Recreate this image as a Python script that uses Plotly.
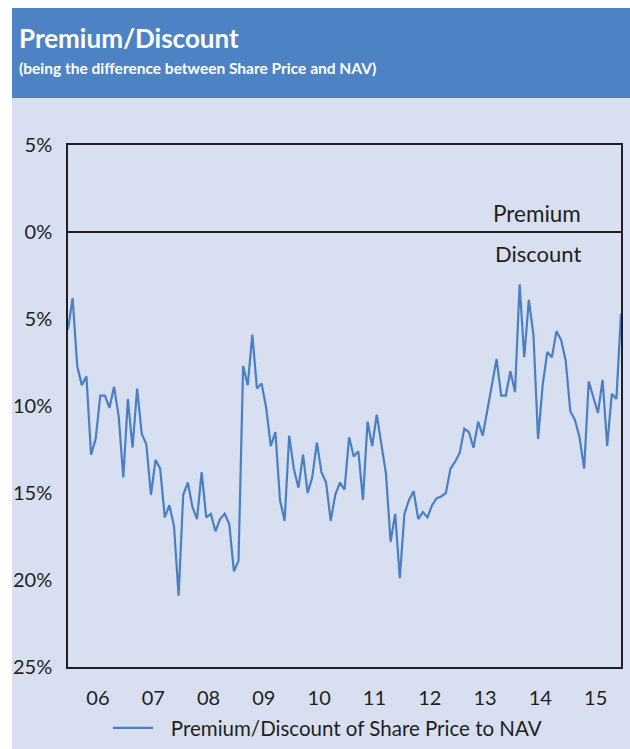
import plotly.graph_objects as go

# ---- data (month index, discount in %; positive = discount) ----
discount = [5.6, 3.8, 7.7, 8.8, 8.3, 12.8, 11.9, 9.4, 9.4, 10.1, 8.9, 10.6, 14.1, 9.6, 12.4,
            9.0, 11.6, 12.2, 15.1, 13.1, 13.6, 16.4, 15.7, 16.9, 20.9, 15.1, 14.4, 15.8, 16.5, 13.8,
            16.4, 16.2, 17.2, 16.5, 16.2, 16.8, 19.5, 18.9, 7.7, 8.8, 5.9, 9.0, 8.7, 10.1, 12.3,
            11.5, 15.4, 16.6, 11.7, 13.6, 14.7, 12.8, 15.0, 14.1, 12.1, 13.8, 14.4, 16.6, 15.1, 14.4,
            14.8, 11.8, 12.9, 12.6, 15.4, 10.9, 12.3, 10.5, 12.2, 13.9, 17.8, 16.2, 19.9, 16.2, 15.4,
            14.9, 16.5, 16.1, 16.4, 15.7, 15.3, 15.2, 15.0, 13.6, 13.2, 12.7, 11.3, 11.5, 12.4, 10.9,
            11.7, 10.3, 8.8, 7.3, 9.4, 9.4, 8.0, 9.2, 3.0, 7.2, 3.9, 5.9, 11.9, 8.8, 6.9,
            7.2, 5.7, 6.2, 7.4, 10.3, 10.8, 11.8, 13.6, 8.6, 9.5, 10.4, 8.5, 12.3, 9.3, 9.6, 4.7]
months = list(range(len(discount)))

year_labels = ["06", "07", "08", "09", "10", "11", "12", "13", "14", "15"]
year_label_pos = [6.5 + 12 * i for i in range(len(year_labels))]
year_tick_pos = [12 * i for i in range(1, len(year_labels))]

y_tickvals = [-5, 0, 5, 10, 15, 20, 25]
y_ticktext = ["5%", "0%", "5%", "10%", "15%", "20%", "25%"]
y_markvals = [0, 5, 10, 15, 20]

series_name = "Premium/Discount of Share Price to NAV"

# ---- styling ----
FONT = "Lato"
DARK = "#231F20"
LINE = "#4A80C3"
HEADER = "#4D83C4"
BG = "#D7DFF0"

W_, H_ = 630, 749
L, R, T, B = 68, 621, 145, 667
PW, PH = R - L, B - T


def px2x(px):
    return (px - L) / PW


def px2y(py):
    return (B - py) / PH


fig = go.Figure()
fig.add_trace(go.Scatter(x=months, y=discount, mode="lines",
                         name="\u2002\u2009" + series_name,
                         line=dict(color=LINE, width=2.2), showlegend=True))

common_x = dict(range=[0, len(discount) - 1], showgrid=False, zeroline=False)
common_y = dict(range=[25, -5], showgrid=False)

fig.update_layout(
    width=W_, height=H_,
    margin=dict(l=L, r=W_ - R, t=T, b=H_ - B, pad=0, autoexpand=False),
    paper_bgcolor=BG, plot_bgcolor=BG,
    font=dict(family=FONT, color=DARK, size=20),
    xaxis=dict(**common_x, tickmode="array", tickvals=year_label_pos, ticktext=year_labels,
               ticks="", showline=True, mirror=True, linecolor=DARK, linewidth=1.5,
               ticklabelstandoff=12, tickfont=dict(size=20, color=DARK)),
    xaxis2=dict(**common_x, overlaying="x", anchor="y", side="bottom", tickmode="array",
                tickvals=year_tick_pos, ticks="outside", ticklen=6, tickwidth=1.5,
                tickcolor=DARK, showticklabels=False, showline=False),
    xaxis3=dict(**common_x, overlaying="x", anchor="y", side="bottom", tickmode="array",
                tickvals=year_tick_pos, ticks="inside", ticklen=8, tickwidth=1.5,
                tickcolor=DARK, showticklabels=False, showline=False),
    yaxis=dict(**common_y, tickmode="array", tickvals=y_tickvals, ticktext=y_ticktext,
               ticks="", showline=True, mirror=True, linecolor=DARK, linewidth=1.5,
               zeroline=True, zerolinecolor=DARK, zerolinewidth=1.5,
               ticklabelstandoff=10, tickfont=dict(size=20, color=DARK)),
    yaxis2=dict(**common_y, overlaying="y", anchor="x", side="left", tickmode="array",
                tickvals=y_markvals, ticks="outside", ticklen=7, tickwidth=1.5,
                tickcolor=DARK, showticklabels=False, showline=False, zeroline=False),
    yaxis3=dict(**common_y, overlaying="y", anchor="x", side="left", tickmode="array",
                tickvals=y_markvals, ticks="inside", ticklen=7, tickwidth=1.5,
                tickcolor=DARK, showticklabels=False, showline=False, zeroline=False),
    legend=dict(orientation="h", x=px2x(108), xanchor="left", y=px2y(728), yanchor="middle",
                itemwidth=40, bgcolor="rgba(0,0,0,0)", font=dict(size=20.5, color=DARK)),
    showlegend=True,
)

# page frame: white strips, blue header band
fig.add_shape(type="rect", xref="paper", yref="paper", x0=px2x(0), x1=px2x(12),
              y0=px2y(H_), y1=px2y(0), fillcolor="white", line=dict(width=0), layer="below")
fig.add_shape(type="rect", xref="paper", yref="paper", x0=px2x(0), x1=px2x(W_),
              y0=px2y(8), y1=px2y(0), fillcolor="white", line=dict(width=0), layer="below")
fig.add_shape(type="rect", xref="paper", yref="paper", x0=px2x(12), x1=px2x(W_),
              y0=px2y(98), y1=px2y(8), fillcolor=HEADER, line=dict(width=0), layer="below")

fig.add_annotation(text="<b>Premium/Discount</b>", xref="paper", yref="paper",
                   x=px2x(17), y=px2y(38), xanchor="left", yanchor="middle", showarrow=False,
                   font=dict(family=FONT, size=26, color="white"))
fig.add_annotation(text="<b>(being the difference between Share Price and NAV)</b>",
                   xref="paper", yref="paper", x=px2x(17), y=px2y(68), xanchor="left",
                   yanchor="middle", showarrow=False, font=dict(family=FONT, size=15.5, color="white"))

fig.add_annotation(text="Premium", xref="paper", yref="paper", x=px2x(583), y=px2y(213),
                   xanchor="right", yanchor="middle", showarrow=False,
                   font=dict(family=FONT, size=22.5, color=DARK))
fig.add_annotation(text="Discount", xref="paper", yref="paper", x=px2x(583), y=px2y(253),
                   xanchor="right", yanchor="middle", showarrow=False,
                   font=dict(family=FONT, size=22, color=DARK))

fig.write_html("out.html", config={"displayModeBar": False},
               post_script="document.body.style.margin='0';document.body.style.overflow='hidden';")
